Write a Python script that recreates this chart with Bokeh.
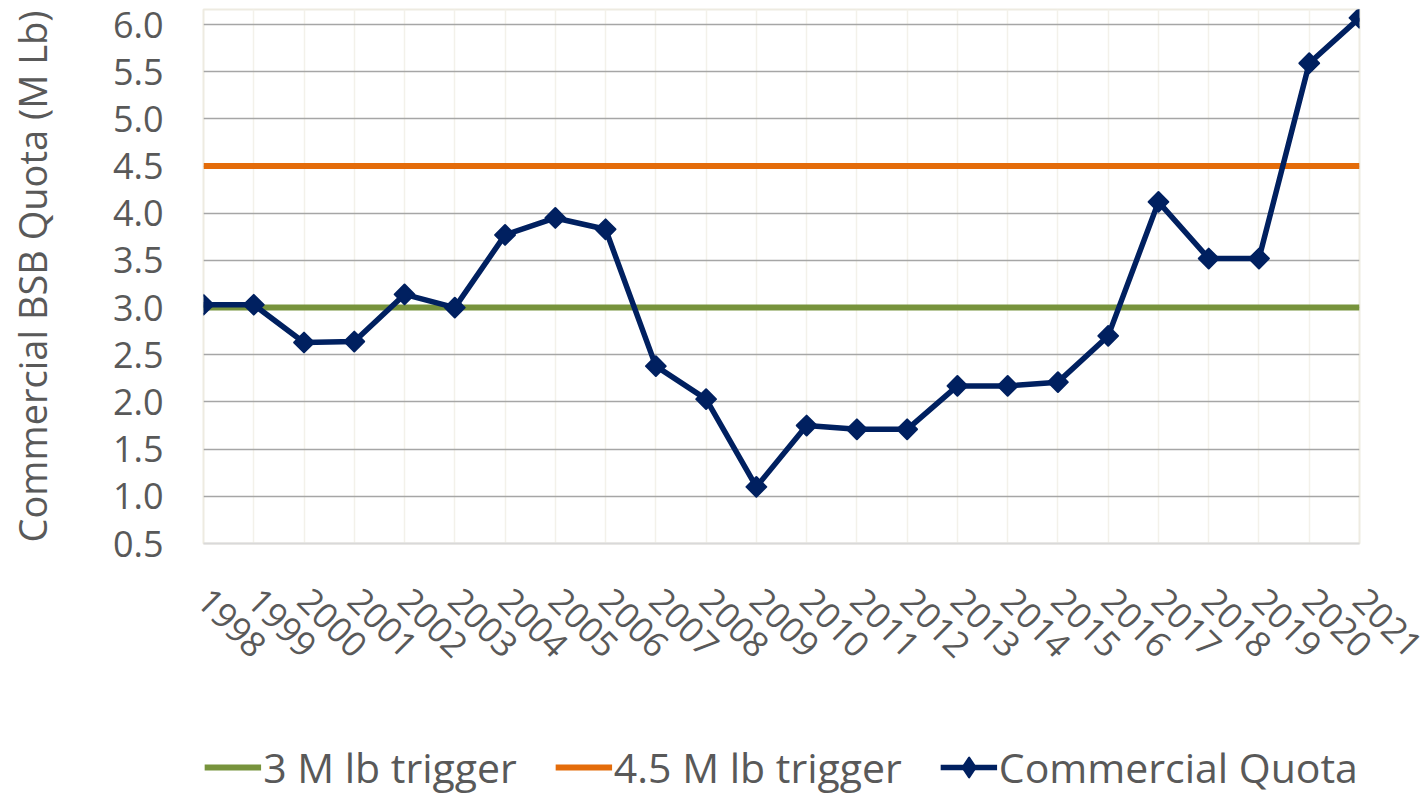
import math
from bokeh.plotting import figure
from bokeh.layouts import column
from bokeh.models import (Range1d, FixedTicker, Legend, LegendItem,
                          PrintfTickFormatter)
from bokeh.embed import file_html
from bokeh.resources import INLINE

years = [1998, 1999, 2000, 2001, 2002, 2003, 2004, 2005, 2006, 2007, 2008, 2009,
         2010, 2011, 2012, 2013, 2014, 2015, 2016, 2017, 2018, 2019, 2020, 2021]
commercial_quota = [3.03, 3.03, 2.63, 2.64, 3.14, 3.00, 3.77, 3.95, 3.83, 2.38,
                    2.03, 1.10, 1.75, 1.71, 1.71, 2.17, 2.17, 2.21, 2.70, 4.12,
                    3.52, 3.52, 5.59, 6.07]
trigger_low = 3.0
trigger_high = 4.5
y_ticks = [0.5, 1.0, 1.5, 2.0, 2.5, 3.0, 3.5, 4.0, 4.5, 5.0, 5.5, 6.0]
y_title = "Commercial BSB Quota (M Lb)"
legend_labels = ["3 M lb trigger", "4.5 M lb trigger", "Commercial Quota"]

FONT = "Open Sans"
TXT = "#595959"
GREEN, ORANGE, NAVY = "#77933C", "#E46C0A", "#002060"
W = 1427
H_MAIN = 739
H_LEG = 56


def add_series(fig, marker="square", size=14, angle=math.pi / 4):
    a = fig.line([years[0], years[-1]], [trigger_low, trigger_low],
                 line_color=GREEN, line_width=6)
    b = fig.line([years[0], years[-1]], [trigger_high, trigger_high],
                 line_color=ORANGE, line_width=6)
    c = fig.line(years, commercial_quota, line_color=NAVY, line_width=5.5,
                 line_join="round")
    d = fig.scatter(years, commercial_quota, marker=marker, size=size,
                    angle=angle, fill_color=NAVY, line_color=NAVY,
                    line_width=2, line_join="round")
    return a, b, c, d


p = figure(width=W, height=H_MAIN, output_backend="svg",
           toolbar_location=None, title=None,
           x_range=Range1d(years[0], years[-1]), y_range=Range1d(0.5, 6.159),
           min_border_left=203, min_border_right=68, min_border_top=9,
           min_border_bottom=H_MAIN - 543)
p.background_fill_color = "white"
p.border_fill_color = "white"
p.outline_line_color = "#EEEBE1"
p.outline_line_width = 2

# grids
p.ygrid.ticker = FixedTicker(ticks=y_ticks[1:])
p.ygrid.grid_line_color = "#A6A6A6"
p.ygrid.grid_line_width = 1.5
p.xgrid.ticker = FixedTicker(ticks=years)
p.xgrid.grid_line_color = "#F3F1EA"
p.xgrid.grid_line_width = 1.5

# axes
p.yaxis.ticker = FixedTicker(ticks=y_ticks)
p.yaxis.formatter = PrintfTickFormatter(format="%.1f")
p.yaxis.axis_line_color = None
p.yaxis.major_tick_line_color = None
p.yaxis.minor_tick_line_color = None
p.yaxis.major_tick_out = 0
p.yaxis.major_label_standoff = 40
p.yaxis.major_label_text_font = FONT
p.yaxis.major_label_text_font_size = "36px"
p.yaxis.major_label_text_color = TXT
p.yaxis.axis_label = y_title
p.yaxis.axis_label_text_font = FONT
p.yaxis.axis_label_text_font_size = "38px"
p.yaxis.axis_label_text_font_style = "normal"
p.yaxis.axis_label_text_color = TXT
p.yaxis.axis_label_standoff = 52

p.xaxis.ticker = FixedTicker(ticks=years)
p.xaxis.axis_line_color = "#D9D9D9"
p.xaxis.axis_line_width = 2
p.xaxis.major_tick_line_color = None
p.xaxis.minor_tick_line_color = None
p.xaxis.major_tick_out = 0
p.xaxis.major_label_orientation = -math.pi / 4
p.xaxis.major_label_standoff = 51
p.xaxis.major_label_text_font = FONT
p.xaxis.major_label_text_font_size = "35px"
p.xaxis.major_label_text_color = TXT

add_series(p)

# legend strip: separate figure below; the same series are drawn there but
# fall outside its (0..1) ranges, so only their legend glyphs are visible
lf = figure(width=W, height=H_LEG, output_backend="svg", toolbar_location=None,
            title=None, x_axis_type=None, y_axis_type=None,
            x_range=Range1d(0, 1), y_range=Range1d(0, 1),
            min_border_left=185, min_border_right=60, min_border_top=0,
            min_border_bottom=0)
lf.outline_line_color = None
lf.grid.visible = False
g1, g2, g3, g3m = add_series(lf, marker="diamond", size=22, angle=0)
legend = Legend(items=[LegendItem(label=legend_labels[0], renderers=[g1]),
                       LegendItem(label=legend_labels[1], renderers=[g2]),
                       LegendItem(label=legend_labels[2], renderers=[g3, g3m])],
                location="center", orientation="horizontal",
                label_text_font=FONT, label_text_font_size="41px",
                label_text_color=TXT, glyph_width=57, glyph_height=50,
                label_standoff=2, spacing=38, padding=0, margin=0,
                border_line_color=None, background_fill_alpha=0)
lf.add_layout(legend)

layout = column(p, lf, spacing=0)
open("out.html", "w").write(file_html(layout, INLINE))
